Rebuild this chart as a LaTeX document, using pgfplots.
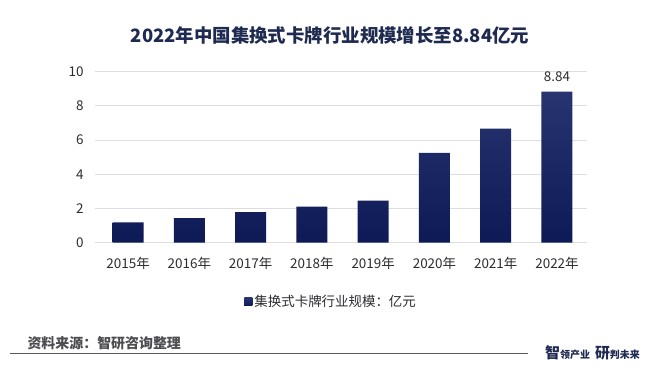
\documentclass[border=0pt]{standalone}
\usepackage{pgfplots}
\pgfplotsset{compat=1.18}
\usepackage{fontspec}
\setmainfont{Noto Sans CJK SC}
\definecolor{navy}{RGB}{22,36,100}
\definecolor{titlec}{RGB}{30,42,80}
\definecolor{txt}{RGB}{45,45,50}
\definecolor{gridc}{RGB}{222,222,226}
\begin{document}
\begin{tikzpicture}
\path[fill=white] (0bp,0bp) rectangle (660bp,367bp);
\node[font=\fontsize{18.5}{20}\selectfont\bfseries, text=titlec] at (330bp,332bp) {2022年中国集换式卡牌行业规模增长至8.84亿元};
\begin{axis}[
  at={(95bp,124.3bp)}, anchor=south west,
  scale only axis, width=492bp, height=171bp,
  xmin=-0.54, xmax=7.49, ymin=0, ymax=10,
  ytick={0,2,4,6,8,10},
  xtick=data,
  xticklabels={2015年,2016年,2017年,2018年,2019年,2020年,2021年,2022年},
  ymajorgrids, grid style={gridc, line width=0.8bp},
  axis line style={draw=none},
  major tick length=0pt,
  /pgf/number format/assume math mode=true,
  tick label style={font=\fontsize{13.5}{15}\selectfont, text=txt},
  xticklabel style={yshift=-11bp},
  yticklabel style={xshift=-8bp},
  legend style={at={(axis description cs:0.48,-0.345)}, anchor=center, draw=none, fill=none,
    font=\fontsize{13.5}{15}\selectfont, text=txt},
  legend image code/.code={\fill[navy] (0bp,-4bp) rectangle (8bp,4bp);},
]
\addplot[ybar, bar width=31bp, draw=none,
  top color={rgb,255:red,40;green,52;blue,112},
  middle color={rgb,255:red,26;green,44;blue,128},
  bottom color={rgb,255:red,14;green,26;blue,86}]
  coordinates {(0,1.19) (1,1.44) (2,1.79) (3,2.11) (4,2.46) (5,5.25) (6,6.67) (7,8.84)};
\addlegendentry{集换式卡牌行业规模：亿元}
\node[anchor=south, font=\fontsize{13.5}{15}\selectfont, text=txt, yshift=6bp] at (axis cs:7,8.84) {8.84};
\end{axis}
\node[anchor=west, font=\fontsize{14}{16}\selectfont\bfseries, text=txt!85] at (24bp,24bp) {资料来源：智研咨询整理};
\draw[black!65, line width=0.8bp] (10bp,14bp) -- (528bp,14bp);
\node[anchor=west, text=titlec, inner sep=0pt] at (545bp,14bp) {\fontsize{15}{16}\selectfont\bfseries 智\fontsize{10}{12}\selectfont 领产业\hspace{5bp}\fontsize{15}{16}\selectfont\bfseries 研\fontsize{10}{12}\selectfont 判未来};
\end{tikzpicture}
\end{document}
